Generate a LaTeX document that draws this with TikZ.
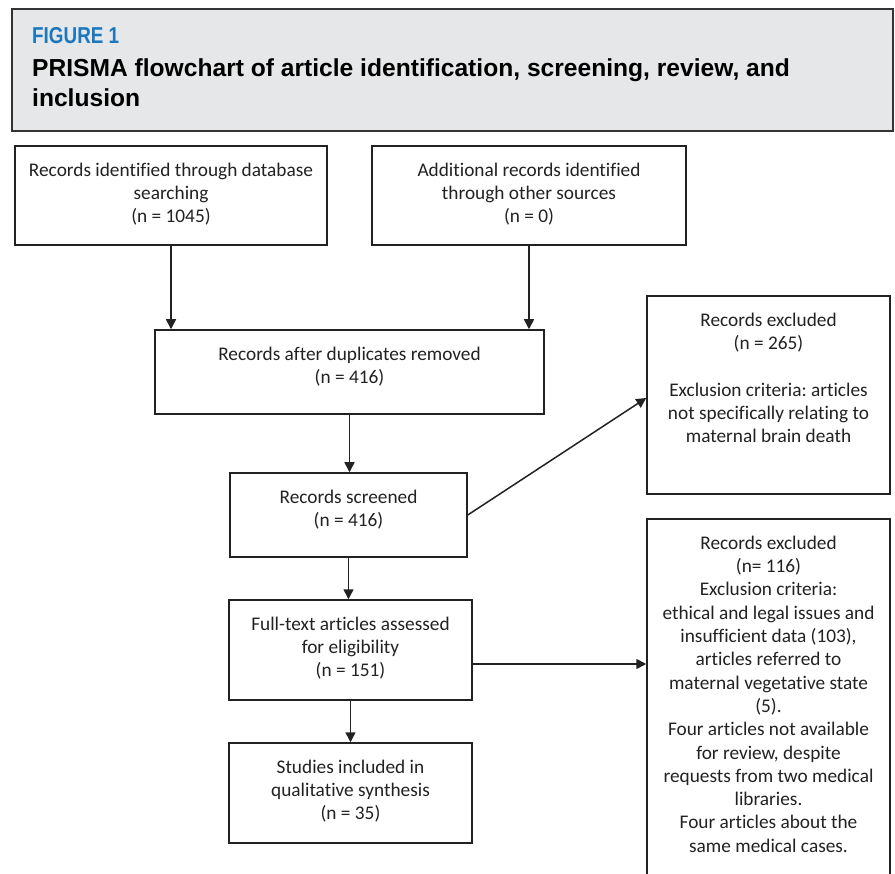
\documentclass[tikz,border=0pt]{standalone}
\usepackage{fontspec}
\setmainfont{Carlito}[Ligatures={NoCommon,NoContextual}]
\newfontfamily\headfont{Liberation Sans}
\usetikzlibrary{arrows.meta}
\frenchspacing
\definecolor{hdrfill}{HTML}{E6E7E8}
\definecolor{hdrline}{HTML}{333333}
\definecolor{figblue}{HTML}{1B78BE}
\definecolor{ink}{HTML}{222222}
\tikzset{
  box/.style={draw=ink, line width=1.5pt, rectangle, inner sep=0pt},
  txt/.style={align=center, inner sep=0pt, text=ink, anchor=north,
    font=\fontsize{19.3}{23.3}\selectfont},
  arr/.style={draw=ink, line width=1.5pt, -{Triangle[length=10pt,width=10pt]}},
}
\begin{document}
\begin{tikzpicture}[x=1pt,y=-1pt]
\useasboundingbox (0,0) rectangle (895,874);
\clip (0,0) rectangle (895,874);
\fill[white] (0,0) rectangle (895,874);
% header
\node[draw=hdrline, fill=hdrfill, line width=2.5pt, minimum width=881pt, minimum height=122pt, inner sep=0pt] (hdr) at (452.5,70) {};
\node[anchor=base west, inner sep=0pt, text=figblue, font=\headfont\bfseries\fontsize{23}{28}\selectfont] (fig) at (32,44) {\scalebox{0.82}[1]{FIGURE 1}};
\node[anchor=north west, inner sep=0pt, align=left, text=black, font=\headfont\bfseries\fontsize{24.6}{30.5}\selectfont] (ttl) at (32,58) {PRISMA flowchart of article identification, screening, review, and\\inclusion};
% boxes
\node[box, minimum width=312pt, minimum height=99pt] (b1) at (171,195.5) {};
\node[box, minimum width=314pt, minimum height=99pt] (b2) at (529,195.5) {};
\node[box, minimum width=389pt, minimum height=84pt] (b3) at (349.5,372) {};
\node[box, minimum width=237pt, minimum height=84pt] (b4) at (348.5,515) {};
\node[box, minimum width=243pt, minimum height=100pt] (b5) at (350.5,650) {};
\node[box, minimum width=243pt, minimum height=100pt] (b6) at (350.5,793) {};
\node[box, minimum width=243pt, minimum height=198pt] (b7) at (768.5,395) {};
\node[box, minimum width=243pt, minimum height=381pt] (b8) at (768.5,709.5) {};
% texts
\node[txt] (t1) at ([yshift=-17.5pt]b1.north) {Records identified through database\\searching\\(n = 1045)};
\node[txt] (t2) at ([yshift=-17.5pt]b2.north) {Additional records identified\\through other sources\\(n = 0)};
\node[txt] (t3) at ([yshift=-17.5pt]b3.north) {Records after duplicates removed\\(n = 416)};
\node[txt] (t4) at ([yshift=-17.5pt]b4.north) {Records screened\\(n = 416)};
\node[txt] (t5) at ([yshift=-17.5pt]b5.north) {Full-text articles assessed\\for eligibility\\(n = 151)};
\node[txt] (t6) at ([yshift=-17.5pt]b6.north) {Studies included in\\qualitative synthesis\\(n = 35)};
\node[txt] (t7) at ([yshift=-17.5pt]b7.north) {Records excluded\\(n = 265)\\[23.3pt]Exclusion criteria: articles\\not specifically relating to\\maternal brain death};
\node[txt] (t8) at ([yshift=-17.5pt]b8.north) {Records excluded\\(n= 116)\\Exclusion criteria:\\ethical and legal issues and\\insufficient data (103),\\articles referred to\\maternal vegetative state\\(5).\\Four articles not available\\for review, despite\\requests from two medical\\libraries.\\Four articles about the\\same medical cases.};
% connectors
\draw[arr] (b1.south) -- (b1.south |- b3.north);
\draw[arr] (b2.south) -- (b2.south |- b3.north);
\draw[arr] (b3.south) -- (b3.south |- b4.north);
\draw[arr] (b4.south) -- (b4.south |- b5.north);
\draw[arr] (b5.south) -- (b6.north);
\draw[arr] (b4.east) -- ([yshift=-3pt]b7.west);
\draw[arr] ([yshift=-14pt]b5.east) -- ([yshift=-14pt]b5.east -| b8.west);
\end{tikzpicture}
\end{document}
